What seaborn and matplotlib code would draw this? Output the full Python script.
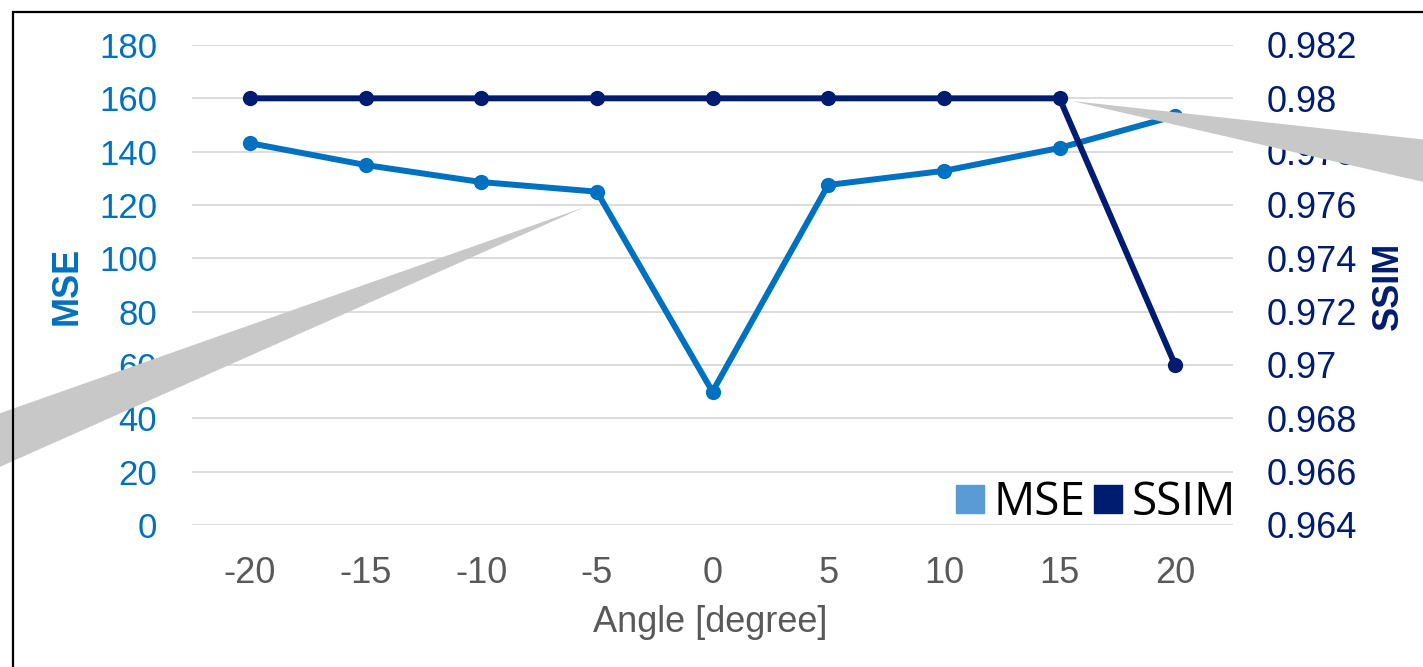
import numpy as np
import pandas as pd
import matplotlib
matplotlib.use("Agg")
import matplotlib.pyplot as plt
from matplotlib.lines import Line2D
from matplotlib.patches import Polygon, Rectangle
import seaborn as sns

# Measurements per rotation angle
angles = [-20, -15, -10, -5, 0, 5, 10, 15, 20]
mse = [143.2, 135.0, 128.6, 125.0, 50.0, 127.5, 132.8, 141.4, 153.4]
ssim = [0.98, 0.98, 0.98, 0.98, 0.98, 0.98, 0.98, 0.98, 0.97]
mse_ticks = [0, 20, 40, 60, 80, 100, 120, 140, 160, 180]
ssim_ticks = [0.964, 0.966, 0.968, 0.97, 0.972, 0.974, 0.976, 0.978, 0.98, 0.982]
ssim_labels = ["0.964", "0.966", "0.968", "0.97", "0.972", "0.974", "0.976", "0.978", "0.98", "0.982"]

MSE_COLOR = "#0070C0"
SSIM_COLOR = "#001C70"
MSE_KEY = "#5B9BD5"
GREY_TEXT = "#595959"
GRID = "#D9D9D9"
FS = 26

sns.set_theme(style="white")
plt.rcParams["font.family"] = ["Liberation Sans", "DejaVu Sans"]

W, H = 1423, 667
fig = plt.figure(figsize=(W / 100, H / 100), dpi=100)
fig.patch.set_facecolor("white")

def px(x0, y0, x1, y1):
    return [x0 / W, 1 - y1 / H, (x1 - x0) / W, (y1 - y0) / H]

ax = fig.add_axes(px(192, 45, 1233, 525))
ax2 = ax.twinx()

df = pd.DataFrame({"angle": angles, "MSE": mse, "SSIM": ssim})

sns.lineplot(data=df, x="angle", y="MSE", ax=ax, color=MSE_COLOR, linewidth=4.3,
             marker="o", markersize=11, markeredgewidth=0, zorder=3)
sns.lineplot(data=df, x="angle", y="SSIM", ax=ax2, color=SSIM_COLOR, linewidth=4.3,
             marker="o", markersize=11, markeredgewidth=0, zorder=3)

ax.set_xlim(-22.5, 22.5)
ax.set_ylim(0, 180)
ax2.set_ylim(0.964, 0.982)

ax.set_xticks(angles)
ax.set_xticklabels([str(a) for a in angles])
ax.set_yticks(mse_ticks)
ax2.set_yticks(ssim_ticks)
ax2.set_yticklabels(ssim_labels)

ax.grid(axis="y", color=GRID, linewidth=1.3)
ax.grid(axis="x", visible=False)
ax2.grid(False)
ax.set_axisbelow(True)

for a in (ax, ax2):
    for s in a.spines.values():
        s.set_visible(False)
    a.set_facecolor("none")

ax.tick_params(axis="y", length=0, pad=25, labelsize=FS - 1, labelcolor=MSE_COLOR)
ax.tick_params(axis="x", length=0, pad=22, labelsize=FS, labelcolor=GREY_TEXT)
ax2.tick_params(axis="y", length=0, pad=24, labelsize=FS, labelcolor=SSIM_COLOR)

ax.set_xlabel("")
ax.set_ylabel("")
ax2.set_ylabel("")
fig.text(710 / W, 1 - 622 / H, "Angle [degree]", ha="center", va="center",
         fontsize=FS, color=GREY_TEXT)
fig.text(67 / W, 1 - 286 / H, "MSE", rotation=90, ha="center", va="center",
         fontsize=FS, fontweight="bold", color=MSE_COLOR)
fig.text(1388 / W, 1 - 286 / H, "SSIM", rotation=90, ha="center", va="center",
         fontsize=FS, fontweight="bold", color=SSIM_COLOR)

handles = [
    Line2D([], [], linestyle="none", marker="s", markersize=20, color=MSE_KEY, label="MSE"),
    Line2D([], [], linestyle="none", marker="s", markersize=20, color=SSIM_COLOR, label="SSIM"),
]
leg = ax.legend(handles=handles, ncol=2, loc="center right",
                bbox_to_anchor=(1236 / W, 1 - 503 / H), bbox_transform=fig.transFigure,
                frameon=False, borderpad=0, borderaxespad=0, handlelength=0.55,
                handletextpad=0.25, columnspacing=0.2,
                prop={"family": "Open Sans", "size": 33})
for t in leg.get_texts():
    t.set_color("black")

# Grey callout wedges overlaying the chart
tf = fig.transFigure
def fpts(pts):
    return [(x / W, 1 - y / H) for x, y in pts]

fig.patches.append(Polygon(fpts([(585, 207), (-5, 415), (-5, 469)]), closed=True,
                           facecolor="#C8C8C8", edgecolor="none", transform=tf, zorder=10))
fig.patches.append(Polygon(fpts([(1072, 101), (1428, 140), (1428, 183)]), closed=True,
                           facecolor="#C8C8C8", edgecolor="none", transform=tf, zorder=10))

# Outer frame
fig.patches.append(Rectangle((12.5 / W, -0.1), 1.2, 1 - 11.5 / H + 0.1, fill=False,
                             edgecolor="black", linewidth=1.6, transform=tf, zorder=11))

fig.savefig("out.png", dpi=100, facecolor="white")
